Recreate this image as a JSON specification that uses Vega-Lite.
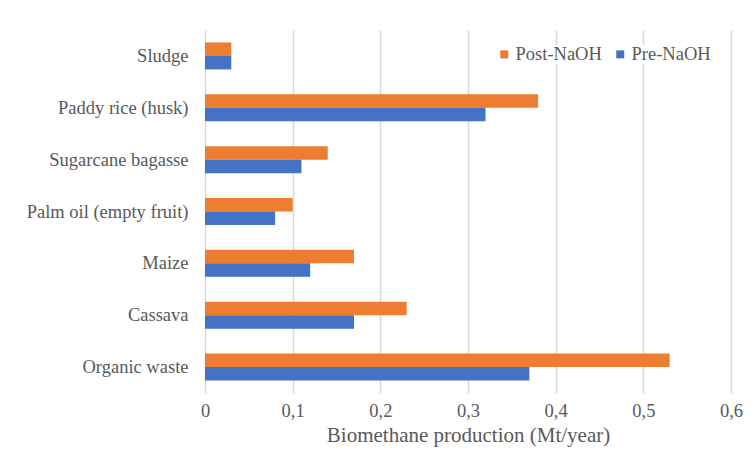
{
  "$schema": "https://vega.github.io/schema/vega-lite/v6.json",
  "width": 526,
  "height": 363,
  "autosize": {"type": "none"},
  "padding": {"left": 205, "top": 30, "right": 23, "bottom": 64},
  "background": "white",
  "config": {
    "view": {"stroke": null},
    "font": "Times New Roman, Liberation Serif, serif"
  },
  "data": {
    "values": [
      {"feedstock": "Sludge", "series": "Post-NaOH", "value": 0.03},
      {"feedstock": "Sludge", "series": "Pre-NaOH", "value": 0.03},
      {"feedstock": "Paddy rice (husk)", "series": "Post-NaOH", "value": 0.38},
      {"feedstock": "Paddy rice (husk)", "series": "Pre-NaOH", "value": 0.32},
      {"feedstock": "Sugarcane bagasse", "series": "Post-NaOH", "value": 0.14},
      {"feedstock": "Sugarcane bagasse", "series": "Pre-NaOH", "value": 0.11},
      {"feedstock": "Palm oil (empty fruit)", "series": "Post-NaOH", "value": 0.10},
      {"feedstock": "Palm oil (empty fruit)", "series": "Pre-NaOH", "value": 0.08},
      {"feedstock": "Maize", "series": "Post-NaOH", "value": 0.17},
      {"feedstock": "Maize", "series": "Pre-NaOH", "value": 0.12},
      {"feedstock": "Cassava", "series": "Post-NaOH", "value": 0.23},
      {"feedstock": "Cassava", "series": "Pre-NaOH", "value": 0.17},
      {"feedstock": "Organic waste", "series": "Post-NaOH", "value": 0.53},
      {"feedstock": "Organic waste", "series": "Pre-NaOH", "value": 0.37}
    ]
  },
  "mark": {"type": "bar"},
  "encoding": {
    "y": {
      "field": "feedstock",
      "type": "nominal",
      "sort": ["Sludge", "Paddy rice (husk)", "Sugarcane bagasse", "Palm oil (empty fruit)", "Maize", "Cassava", "Organic waste"],
      "scale": {"paddingInner": 0.48, "paddingOuter": 0.24},
      "axis": {
        "title": null,
        "domain": false,
        "ticks": false,
        "labelFontSize": 18.5,
        "labelColor": "#595959",
        "labelPadding": 17,
        "labelFont": "Times New Roman, Liberation Serif, serif"
      }
    },
    "yOffset": {
      "field": "series",
      "type": "nominal",
      "sort": ["Post-NaOH", "Pre-NaOH"],
      "scale": {"paddingInner": 0, "paddingOuter": 0}
    },
    "x": {
      "field": "value",
      "type": "quantitative",
      "scale": {"domain": [0, 0.6], "nice": false},
      "axis": {
        "title": "Biomethane production (Mt/year)",
        "titleFontSize": 21,
        "titleFontWeight": "normal",
        "titleColor": "#595959",
        "titleFont": "Times New Roman, Liberation Serif, serif",
        "titlePadding": 5,
        "values": [0, 0.1, 0.2, 0.3, 0.4, 0.5, 0.6],
        "format": ".1~f",
        "labelExpr": "replace(datum.label, '.', ',')",
        "labelFontSize": 18.5,
        "labelColor": "#595959",
        "labelFont": "Times New Roman, Liberation Serif, serif",
        "labelPadding": 8,
        "labelFlush": false,
        "domain": false,
        "ticks": false,
        "grid": true,
        "gridColor": "#D9D9D9",
        "gridWidth": 1.5
      }
    },
    "color": {
      "field": "series",
      "type": "nominal",
      "scale": {"domain": ["Post-NaOH", "Pre-NaOH"], "range": ["#ED7D31", "#4472C4"]},
      "legend": {
        "title": null,
        "orient": "none",
        "legendX": 290,
        "legendY": 15,
        "direction": "horizontal",
        "symbolType": "square",
        "symbolSize": 64,
        "symbolStrokeWidth": 0,
        "labelFontSize": 18.5,
        "labelColor": "#595959",
        "labelFont": "Times New Roman, Liberation Serif, serif",
        "labelOffset": 2,
        "columnPadding": 9,
        "fillColor": "white"
      }
    }
  }
}
